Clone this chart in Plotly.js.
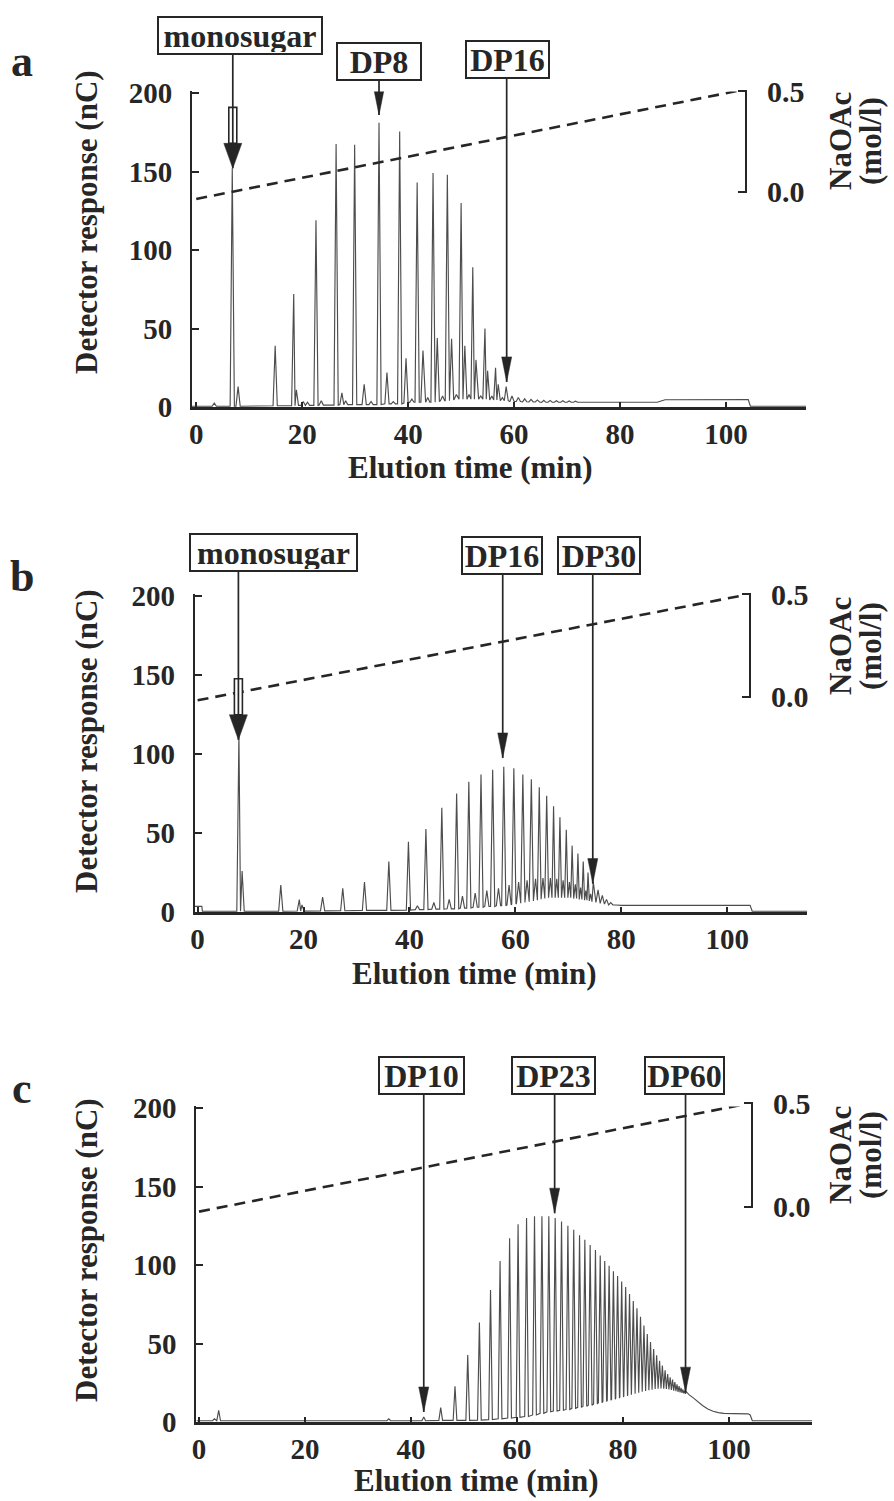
<!DOCTYPE html>
<html>
<head>
<meta charset="utf-8">
<script src="https://cdn.plot.ly/plotly-3.0.1.min.js"></script>
<style>html,body{margin:0;padding:0;background:#fff;}#chart{width:894px;height:1501px;}</style>
</head>
<body>
<div id="chart"></div>
<script>
// ---------------- DATA ----------------
// Panel a: peak apex times (min), apex heights (nC), local foot level (nC)
var aPeakT = [3.4, 6.8, 7.9, 14.9, 18.4, 18.9, 20.2, 21.0, 22.6, 23.6, 26.4, 27.5, 28.2, 29.9, 31.7, 33.0, 34.5, 36.0, 37.2, 38.4, 39.6, 40.7, 41.7, 42.8, 43.7, 44.7, 45.5, 46.5, 47.4, 48.2, 49.1, 50.0, 50.7, 51.5, 52.2, 52.8, 53.7, 54.5, 55.0, 55.8, 56.5, 57.0, 57.8, 58.5, 59.6, 60.8, 62.0, 63.2, 64.4, 65.6, 66.8, 68.0, 69.2, 70.4, 71.6];
var aPeakH = [2.5, 152, 13, 39, 72, 11, 3.5, 3, 119, 4, 167.5, 9, 4, 167, 14.5, 3.5, 181, 22, 3.5, 175.5, 31, 5, 143, 36, 6, 149, 44, 7, 148, 43.5, 8, 130, 39, 8, 89, 30, 7, 50, 23, 7, 25, 14.5, 6, 13, 7, 6, 5.2, 4.8, 4.5, 4.3, 4.2, 4, 4, 3.8, 3.7];
var aPeakBase = [0.5, 0.5, 0.5, 0.8, 0.8, 1, 1, 1, 1, 1.2, 1.2, 1.5, 1.5, 1.5, 1.5, 1.5, 1.5, 2, 2, 2, 2.5, 3, 3, 3, 3, 3, 3.5, 4, 4, 4.5, 5, 5, 5, 5, 5, 5, 5, 5, 5, 4.5, 4.5, 4.5, 4, 4, 3.5, 3.5, 3.3, 3.2, 3.2, 3, 3, 3, 3, 3, 3];
var aHeadT = [-0.8], aHeadY = [0.5];
var aTailT = [72.5, 87, 88.5, 104.2, 104.6, 115.1];
var aTailY = [3, 3, 4.6, 4.8, 0.5, 0.5];

// Panel b
var bPeakT = [7.8, 8.4, 15.7, 19.2, 19.7, 23.6, 27.4, 31.5, 36.1, 39.8, 41.5, 43.1, 44.6, 46.1, 47.5, 48.9, 50.0, 51.2, 52.4, 53.5, 54.6, 55.7, 56.8, 57.8, 58.8, 59.7, 60.6, 61.4, 62.2, 63.0, 63.8, 64.5, 65.2, 65.9, 66.6, 67.2, 67.8, 68.4, 69.0, 69.6, 70.2, 70.7, 71.3, 71.8, 72.3, 72.8, 73.3, 73.7, 74.2, 74.7, 75.6, 76.4, 77.2, 78.0];
var bPeakH = [112, 26, 17, 7.8, 4.5, 9.5, 15, 19, 32, 44.5, 4, 52.5, 6, 66, 8, 75, 10, 82.5, 12, 87, 13.5, 90, 15, 92, 17, 91, 19, 87, 20, 84, 21, 79, 21.5, 73.5, 21.5, 67, 21, 60, 20, 52, 19, 42, 17.5, 37, 15.5, 32, 13.5, 25, 11.5, 19, 14, 10.5, 8, 6];
var bPeakBase = [0.5, 0.5, 0.5, 0.6, 0.6, 0.7, 0.8, 1, 1, 1.2, 1.5, 1.5, 1.8, 1.8, 2, 2, 2.5, 2.5, 3, 3, 3.5, 3.5, 4, 4, 4.5, 5, 5.5, 6, 6.5, 7, 7.5, 8, 8.5, 9, 9, 9, 9, 9, 9, 9, 9, 9, 8.5, 8.5, 8, 8, 7.5, 7.5, 7, 6.5, 6, 5.5, 5, 4.5];
var bHeadT = [-0.55, 0.8, 0.9], bHeadY = [3.6, 3.6, 0.5];
var bTailT = [79, 80, 104.3, 104.7, 115.1];
var bTailY = [4.4, 4.2, 4.2, 0.5, 0.5];

// Panel c
var cPeakT = [2.9, 3.7, 35.8, 42.4, 45.6, 48.3, 50.7, 52.9, 55.0, 56.8, 58.6, 60.2, 61.8, 63.3, 64.7, 66.0, 67.2, 68.4, 69.6, 70.7, 71.8, 72.8, 73.8, 74.8, 75.7, 76.55, 77.38, 78.19, 78.98, 79.75, 80.5, 81.23, 81.94, 82.63, 83.3, 83.95, 84.58, 85.19, 85.78, 86.35, 86.9, 87.43, 87.94, 88.43, 88.9, 89.35, 89.78, 90.19, 90.58, 90.95, 91.3, 91.63, 91.94];
var cPeakH = [2, 7.4, 2, 3.2, 9.2, 22.8, 42.6, 63.4, 84, 102.6, 117, 126, 130, 131, 131, 131, 130, 127.7, 125, 122.4, 119, 116, 112.8, 109.6, 106, 102.5, 99.5, 96, 93, 89.5, 86, 81.5, 77, 72.5, 67, 61.5, 56, 51, 46.5, 42.5, 39, 36, 33, 30.5, 28.5, 27, 25.5, 24, 22.8, 21.8, 20.8, 20, 19.3];
var cPeakBase = [0.8, 0.8, 0.8, 0.8, 1, 1, 1, 1.2, 1.5, 2, 2.5, 3, 3.5, 4.5, 5.5, 6.5, 7, 7.5, 8, 8.7, 9.3, 10, 10.7, 11.5, 12.3, 13, 13.8, 14.5, 15.2, 15.9, 16.6, 17.3, 18, 18.6, 19.2, 19.7, 20.2, 20.6, 21, 21.2, 21.3, 21.3, 21.2, 21, 20.7, 20.4, 20, 19.6, 19.2, 18.8, 18.5, 18.2, 18];
var cHeadT = [-0.5], cHeadY = [0.8];
var cTailT = [92.5, 93.2, 94, 95, 96, 97, 98, 99, 101, 103.6, 104, 104.4, 115.7];
var cTailY = [17.3, 15.5, 13, 10.5, 8.3, 6.8, 6, 5.5, 5.3, 5.2, 4.5, 0.8, 0.8];

// NaOAc gradient (dashed), drawn in detector units
var aGradT = [0, 102.4], aGradY = [132.5, 201.5];
var bGradT = [0, 103.3], bGradY = [134, 200.6];
var cGradT = [0, 103.9], cGradY = [134, 203];

// Axis ticks
var xTicks = [0, 20, 40, 60, 80, 100];
var yTicks = [0, 50, 100, 150, 200];
var naTickVals = [0, 0.5];
var naTickText = ['0.0', '0.5'];

// Labelled peaks: text, time (min), value at arrow tip (nC)
var aLabels = ['monosugar', 'DP8', 'DP16'];
var aLabelT = [6.9, 34.5, 58.6];
var aLabelV = [152, 186, 16];
var bLabels = ['monosugar', 'DP16', 'DP30'];
var bLabelT = [7.7, 57.6, 74.6];
var bLabelV = [109, 97.5, 18];
var cLabels = ['DP10', 'DP23', 'DP60'];
var cLabelT = [42.4, 67.1, 91.8];
var cLabelV = [6.4, 133, 19];

// ---------------- BUILD ----------------
function chromatogram(headT, headY, pt, ph, pb, tailT, tailY, hw) {
  var xs = headT.slice(), ys = headY.slice();
  var n = pt.length;
  for (var i = 0; i < n; i++) {
    var t = pt[i];
    var l = t - hw, r = t + hw;
    if (i > 0) l = Math.max(l, (t + pt[i - 1]) / 2);
    if (i < n - 1) r = Math.min(r, (t + pt[i + 1]) / 2);
    xs.push(l, t, r); ys.push(pb[i], ph[i], pb[i]);
  }
  return {x: xs.concat(tailT), y: ys.concat(tailY)};
}

var FONT = 'Liberation Serif, "Times New Roman", Times, serif';
var INK = '#262626';
var W = 894, H = 1501;
function px(v) { return v / W; }
function py(v) { return 1 - v / H; }

var ca = chromatogram(aHeadT, aHeadY, aPeakT, aPeakH, aPeakBase, aTailT, aTailY, 0.4);
var cb = chromatogram(bHeadT, bHeadY, bPeakT, bPeakH, bPeakBase, bTailT, bTailY, 0.4);
var cc = chromatogram(cHeadT, cHeadY, cPeakT, cPeakH, cPeakBase, cTailT, cTailY, 0.35);

var lineStyle = {color: '#4d4d4d', width: 1.15};
var dashStyle = {color: INK, width: 2.6, dash: '11px,7px'};
var traces = [
  {x: ca.x, y: ca.y, xaxis: 'x', yaxis: 'y', mode: 'lines', line: lineStyle},
  {x: cb.x, y: cb.y, xaxis: 'x2', yaxis: 'y2', mode: 'lines', line: lineStyle},
  {x: cc.x, y: cc.y, xaxis: 'x3', yaxis: 'y3', mode: 'lines', line: lineStyle},
  {x: aGradT, y: aGradY, xaxis: 'x', yaxis: 'y', mode: 'lines', line: dashStyle, cliponaxis: false},
  {x: bGradT, y: bGradY, xaxis: 'x2', yaxis: 'y2', mode: 'lines', line: dashStyle, cliponaxis: false},
  {x: cGradT, y: cGradY, xaxis: 'x3', yaxis: 'y3', mode: 'lines', line: dashStyle, cliponaxis: false},
  {x: [], y: [], xaxis: 'x', yaxis: 'y4', mode: 'lines'},
  {x: [], y: [], xaxis: 'x2', yaxis: 'y5', mode: 'lines'},
  {x: [], y: [], xaxis: 'x3', yaxis: 'y6', mode: 'lines'}
];

var tickFont = {family: FONT, size: 29, color: INK, weight: 'bold'};
function xAx(d0, d1, r0, r1, anchor) {
  return {domain: [px(d0), px(d1)], range: [r0, r1], anchor: anchor, showline: true, linewidth: 2.5,
    linecolor: INK, ticks: 'inside', ticklen: 5, tickwidth: 2, tickcolor: INK, tickvals: xTicks,
    tickfont: tickFont, showgrid: false, zeroline: false, ticklabelstandoff: 0};
}
// y range padded by one unit so the end ticks are kept; scale 1.57 px per nC
function yAx(top, bottom, anchor) {
  return {domain: [py(bottom), py(top - 1.57)], range: [0, 201], anchor: anchor, showline: true, linewidth: 2,
    linecolor: INK, ticks: 'inside', ticklen: 7, tickwidth: 2, tickcolor: INK, tickvals: yTicks,
    tickfont: tickFont, showgrid: false, zeroline: false, ticklabelstandoff: 12};
}
function naAx(top, bottom, pos) {
  return {domain: [py(bottom + 1), py(top - 1)], range: [-0.005, 0.505], anchor: 'free', position: px(pos), side: 'right',
    showline: true, linewidth: 2, linecolor: INK, ticks: 'inside', ticklen: 7, tickwidth: 2, tickcolor: INK,
    tickvals: naTickVals, ticktext: naTickText, tickfont: {family: FONT, size: 30, color: INK, weight: 'bold'},
    showgrid: false, zeroline: false, ticklabelstandoff: 14};
}

var annotations = [];
var shapes = [];
function txt(text, x, y, size, angle) {
  annotations.push({text: text, xref: 'paper', yref: 'paper', x: px(x), y: py(y), xanchor: 'center', yanchor: 'middle',
    showarrow: false, textangle: angle || 0, font: {family: FONT, size: size, color: INK, weight: 'bold'}});
}
var panels = [
  {letter: 'a', ly: 62, xt: 470, xty: 468, yt: 222, na: 141},
  {letter: 'b', ly: 576, xt: 474, xty: 973, yt: 741, na: 646},
  {letter: 'c', ly: 1088, xt: 476, xty: 1480, yt: 1250, na: 1155}
];
panels.forEach(function (p) {
  txt(p.letter, 22, p.ly, 44, 0);
  txt('Elution time (min)', p.xt, p.xty, 31, 0);
  txt('Detector response (nC)', 86, p.yt, 31, -90);
  txt('NaOAc', 840, p.na, 31, -90);
  txt('(mol/l)', 870, p.na, 31, -90);
});

// labelled arrows: shaft from box bottom (axis units) to tip, head drawn as pixel-sized shape
function labelSet(labels, times, vals, xa, ya, boxBottom, boxX, boxY, boxW, hollow) {
  var boxes = [];
  for (var i = 0; i < labels.length; i++) {
    annotations.push({text: '', xref: xa, yref: ya, x: times[i], y: vals[i], axref: xa, ayref: ya, ax: times[i], ay: boxBottom[i] + 3,
      showarrow: true, arrowhead: 0, arrowwidth: 1.7, arrowcolor: INK, standoff: 0, startstandoff: 0});
    boxes.push({text: labels[i], xref: 'paper', yref: 'paper', x: px(boxX[i]), y: py(boxY[i]), xanchor: 'center', yanchor: 'middle',
      showarrow: false, bgcolor: '#fff', bordercolor: INK, borderwidth: 2, borderpad: 1, width: boxW[i], height: 33,
      font: {family: FONT, size: 32, color: INK, weight: 'bold'}});
    if (hollow[i]) {
      shapes.push({type: 'path', xref: xa, yref: ya, xsizemode: 'pixel', ysizemode: 'pixel', xanchor: times[i], yanchor: vals[i],
        path: 'M-4,25 L-4,61 L4,61 L4,25 Z', fillcolor: '#fff', line: {color: INK, width: 1.6}, layer: 'above'});
      shapes.push({type: 'path', xref: xa, yref: ya, xsizemode: 'pixel', ysizemode: 'pixel', xanchor: times[i], yanchor: vals[i],
        path: 'M0,0 L-9,25 L9,25 Z', fillcolor: INK, line: {color: INK, width: 0.5}, layer: 'above'});
    } else {
      shapes.push({type: 'path', xref: xa, yref: ya, xsizemode: 'pixel', ysizemode: 'pixel', xanchor: times[i], yanchor: vals[i],
        path: 'M0,0 L-5,25 L5,25 Z', fillcolor: INK, line: {color: INK, width: 0.5}, layer: 'above'});
    }
  }
  annotations = annotations.concat(boxes);
}
labelSet(aLabels, aLabelT, aLabelV, 'x', 'y', [224.8, 207.6, 208.9], [240, 379, 507], [35, 61, 60], [160, 80, 79], [true, false, false]);
labelSet(bLabels, bLabelT, bLabelV, 'x2', 'y2', [215.2, 213.3, 213.3], [273, 502, 599], [552, 555, 555], [163, 76, 78], [true, false, false]);
labelSet(cLabels, cLabelT, cLabelV, 'x3', 'y3', [208.3, 208.3, 208.3], [421.5, 553.5, 684.6], [1075, 1075, 1075], [81, 79, 75], [false, false, false]);

var layout = {
  width: W, height: H, autosize: false, showlegend: false,
  margin: {l: 0, r: 0, t: 0, b: 0, pad: 0},
  paper_bgcolor: '#fff', plot_bgcolor: 'rgba(0,0,0,0)',
  font: {family: FONT, color: INK},
  xaxis: xAx(192, 806, -0.8, 115.1, 'y'),
  xaxis2: xAx(194.7, 807.3, -0.55, 115.1, 'y2'),
  xaxis3: xAx(196.4, 812.2, -0.5, 115.7, 'y3'),
  yaxis: yAx(93, 407, 'x'),
  yaxis2: yAx(596, 912, 'x2'),
  yaxis3: yAx(1108, 1422, 'x3'),
  yaxis4: naAx(91, 192, 746),
  yaxis5: naAx(594, 697, 750),
  yaxis6: naAx(1103, 1207, 752),
  annotations: annotations,
  shapes: shapes
};
Plotly.newPlot('chart', traces, layout, {displayModeBar: false, staticPlot: true});
</script>
</body>
</html>
